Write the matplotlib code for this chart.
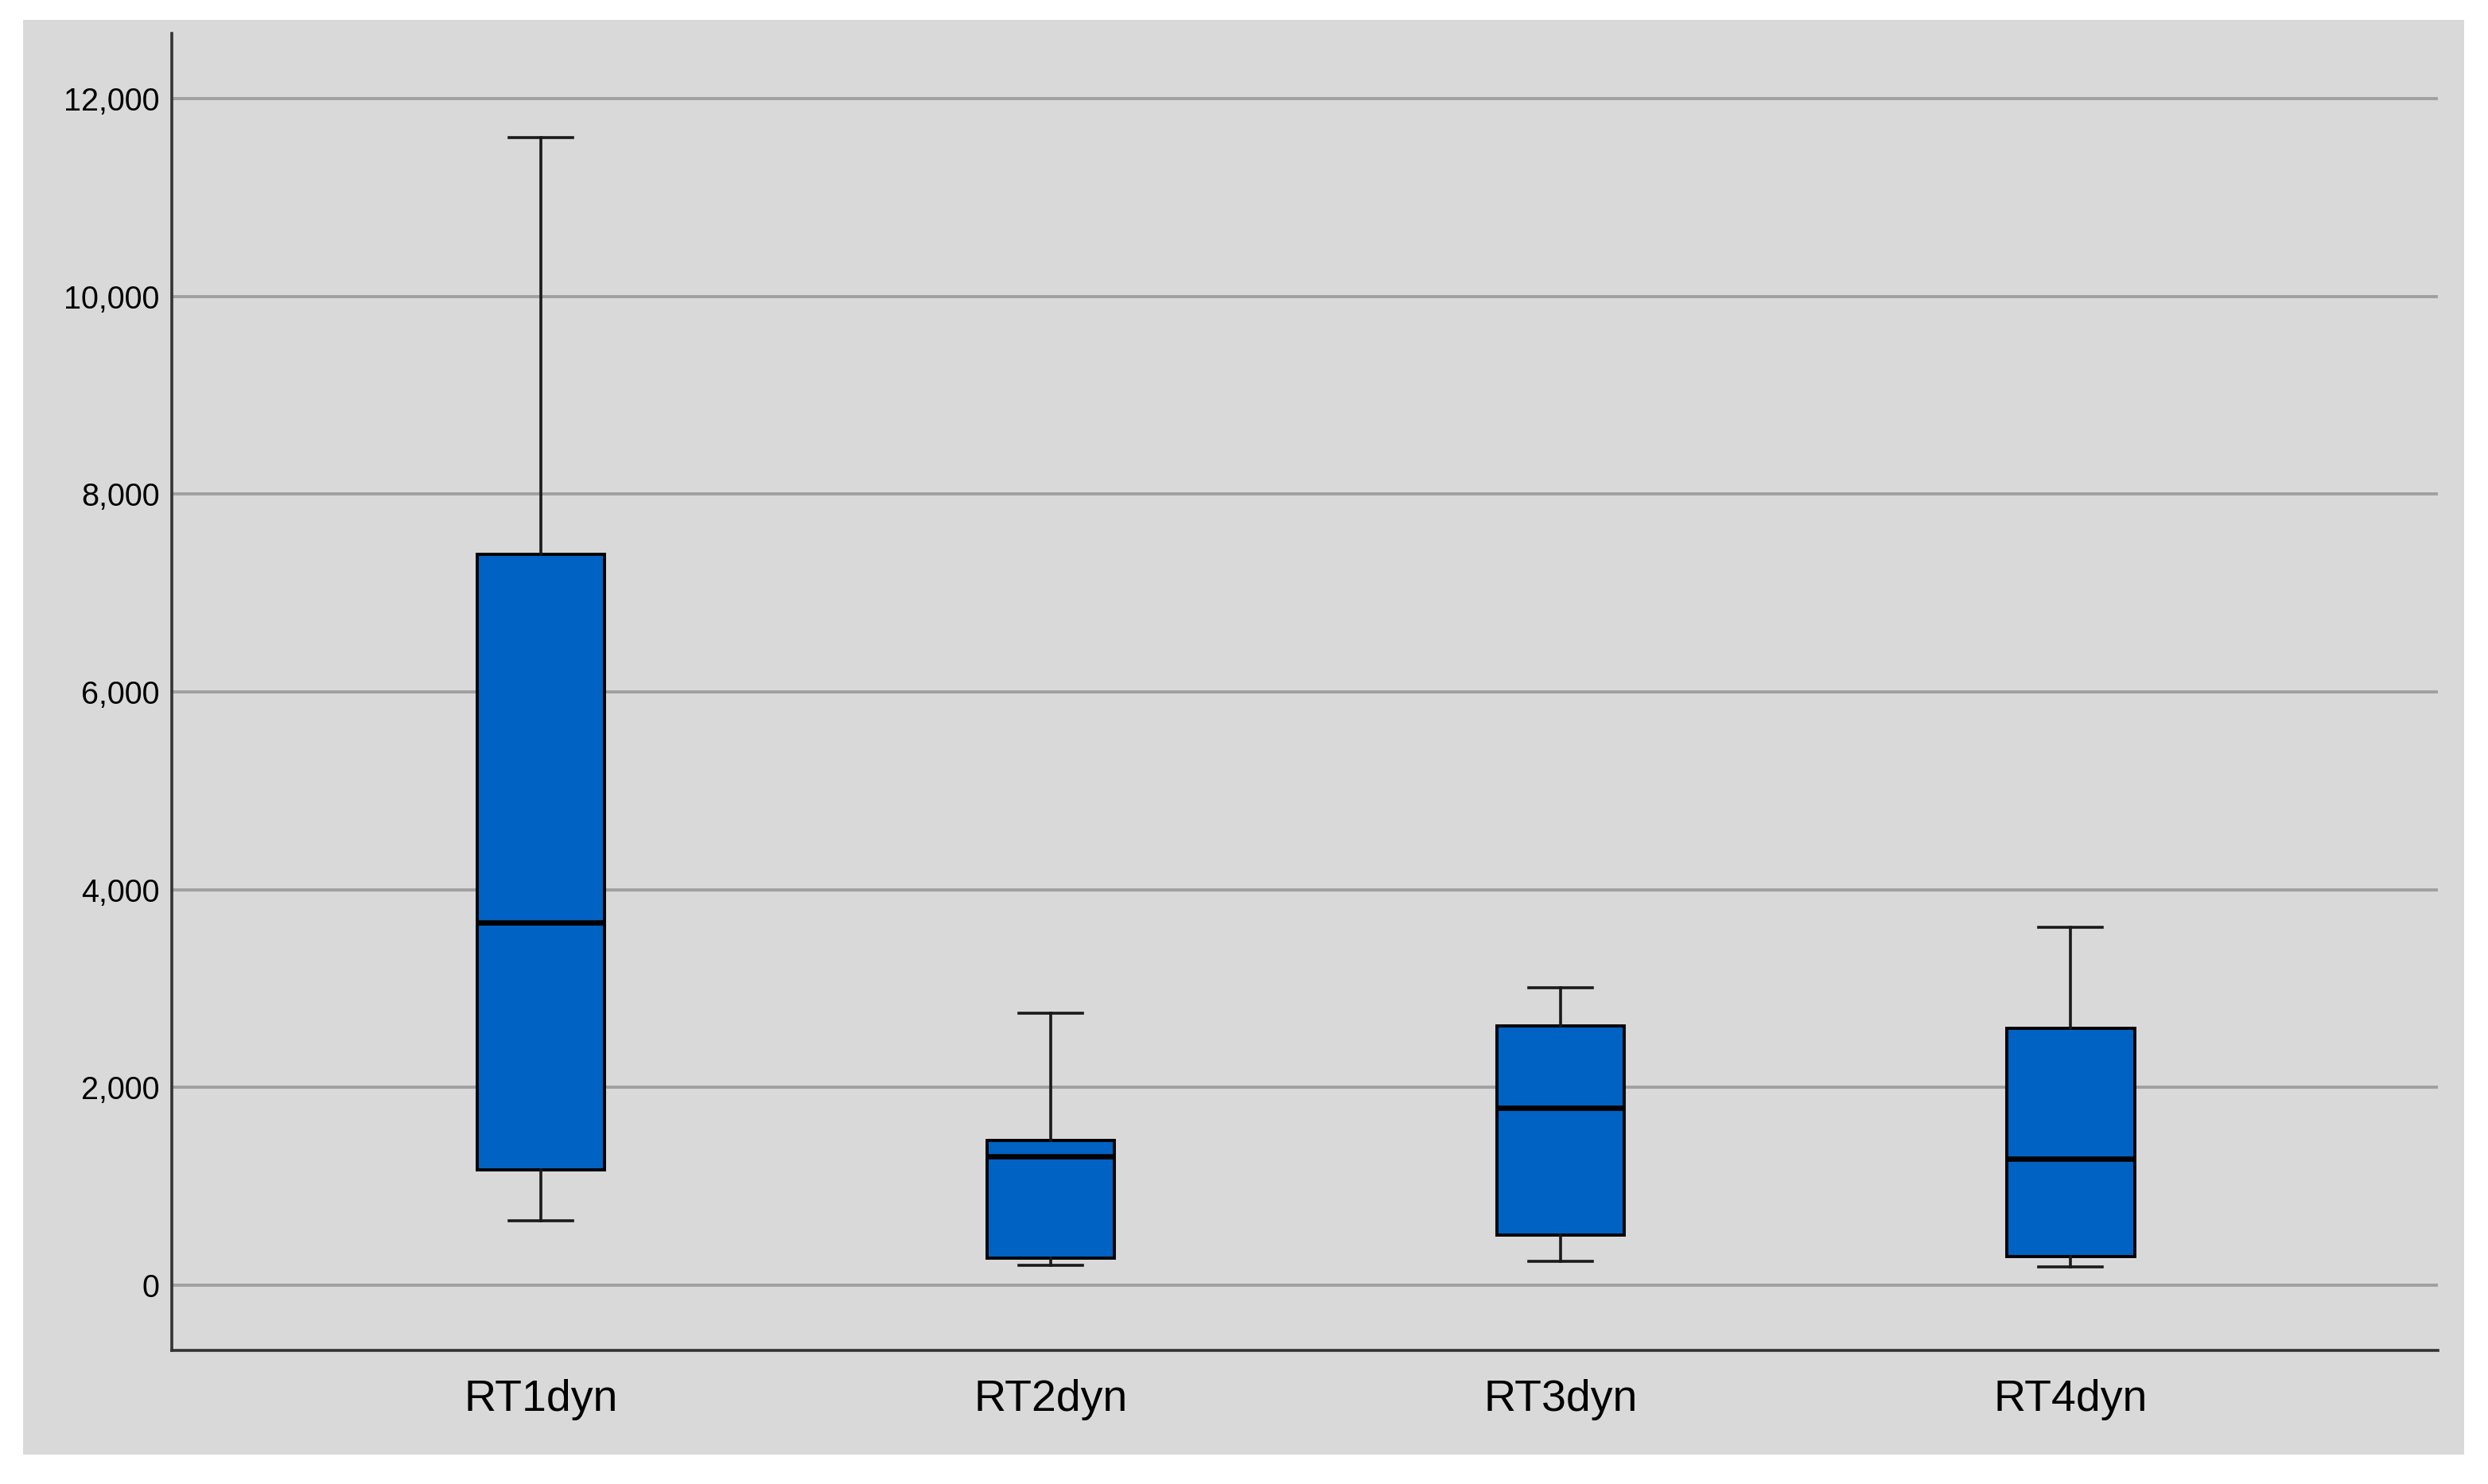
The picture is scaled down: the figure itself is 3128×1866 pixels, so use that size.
import matplotlib.pyplot as plt
from matplotlib.patches import Rectangle
from matplotlib.ticker import FuncFormatter

# boxplot summary values
labels = ["RT1dyn", "RT2dyn", "RT3dyn", "RT4dyn"]
whislo = [650, 200, 240, 185]
q1 = [1165, 275, 505, 290]
med = [3670, 1300, 1795, 1280]
q3 = [7390, 1465, 2620, 2600]
whishi = [11610, 2750, 3010, 3620]

W, H = 3128, 1866
plt.rcParams['font.family'] = ['Liberation Sans', 'DejaVu Sans']
fig = plt.figure(figsize=(W / 100, H / 100), dpi=100, facecolor="white")

# gray chart frame
fig.patches.append(Rectangle((29 / W, 1 - 1829 / H), (3098 - 29) / W, (1829 - 25) / H,
                             transform=fig.transFigure, facecolor="#d9d9d9",
                             edgecolor="none", zorder=-5))

ax = fig.add_axes([216 / W, 1 - 1698 / H, (3065 - 216) / W, (1698 - 42) / H])
ax.set_zorder(1)
ax.set_facecolor("#d9d9d9")

stats = []
for i in range(len(labels)):
    stats.append(dict(label=labels[i], whislo=whislo[i], q1=q1[i], med=med[i],
                      q3=q3[i], whishi=whishi[i], fliers=[]))

ax.bxp(stats, positions=range(1, 5), widths=0.25, patch_artist=True,
       showfliers=False,
       boxprops=dict(facecolor="#0062c3", edgecolor="black", linewidth=2.8),
       medianprops=dict(color="black", linewidth=4.8),
       whiskerprops=dict(color="#1a1a1a", linewidth=2.6),
       capprops=dict(color="#1a1a1a", linewidth=2.6),
       capwidths=0.125, zorder=3)

ax.set_xlim(0.276, 4.72)
ax.set_ylim(-660, 12660)
ax.set_yticks(range(0, 12001, 2000))
ax.yaxis.set_major_formatter(FuncFormatter(lambda v, p: f"{int(v):,}"))
ax.grid(axis="y", color="#a0a0a0", linewidth=2.8, zorder=1)
ax.set_axisbelow(True)

for s in ["top", "right"]:
    ax.spines[s].set_visible(False)
for s in ["left", "bottom"]:
    ax.spines[s].set_color("#333333")
    ax.spines[s].set_linewidth(2.6)

ax.tick_params(axis="y", length=0, pad=11, labelsize=28.5)
ax.tick_params(axis="x", length=0, pad=26, labelsize=40)

fig.savefig("out.png", dpi=100, facecolor="white")
